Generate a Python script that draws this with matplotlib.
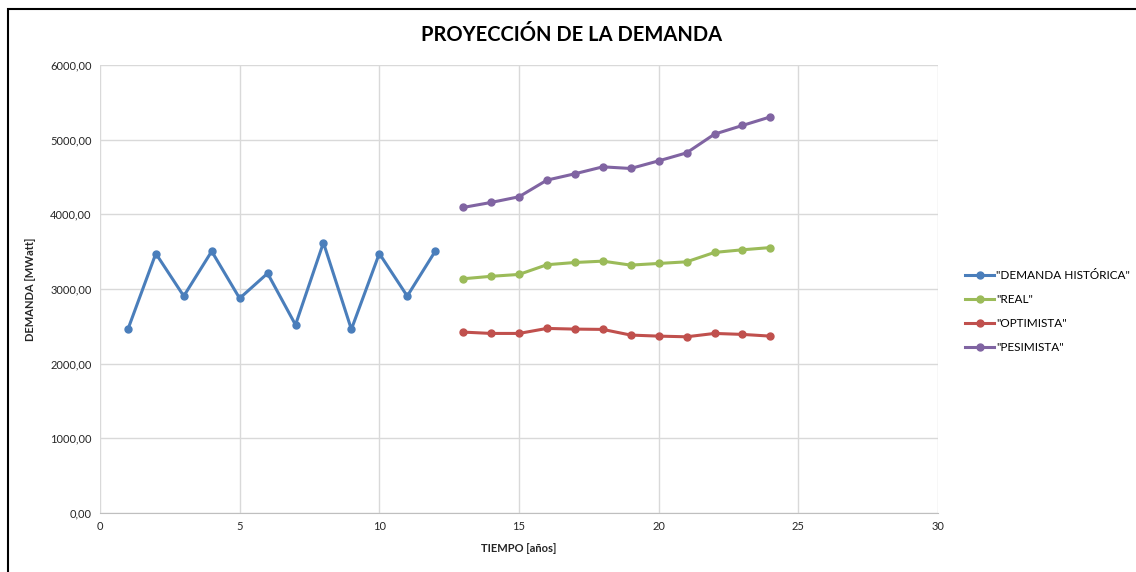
import matplotlib
matplotlib.use("Agg")
import matplotlib.pyplot as plt
from matplotlib.patches import Rectangle
from matplotlib.ticker import FuncFormatter

plt.rcParams['font.family'] = ['Lato', 'DejaVu Sans']

# data
years_hist = list(range(1, 13))
demanda_historica = [2460, 3475, 2905, 3505, 2875, 3210, 2520, 3620, 2460, 3475, 2905, 3505]

years_proj = list(range(13, 25))
real = [3137, 3170, 3195, 3325, 3355, 3373, 3320, 3342, 3364, 3490, 3525, 3555]
optimista = [2423, 2405, 2405, 2472, 2463, 2459, 2383, 2369, 2360, 2405, 2392, 2369]
pesimista = [4092, 4159, 4235, 4458, 4543, 4636, 4614, 4716, 4823, 5074, 5190, 5305]

series = [
    ('"DEMANDA HISTÓRICA"', years_hist, demanda_historica, '#4A7EBB'),
    ('"REAL"', years_proj, real, '#9BBB59'),
    ('"OPTIMISTA"', years_proj, optimista, '#C0504D'),
    ('"PESIMISTA"', years_proj, pesimista, '#8064A2'),
]

fig = plt.figure(figsize=(11.36, 5.72), dpi=100)
ax = fig.add_axes([0.088, 0.1031, 0.7377, 0.7833])

for label, xs, ys, col in series:
    ax.plot(xs, ys, color=col, lw=2.2, marker='o', ms=5, label=label)

ax.set_xlim(0, 30)
ax.set_ylim(0, 6000)
ax.set_xticks(range(0, 31, 5))
ax.set_yticks(range(0, 6001, 1000))
ax.yaxis.set_major_formatter(FuncFormatter(lambda v, p: f"{v:.2f}".replace('.', ',')))
ax.grid(True, color='#D9D9D9', lw=1)
ax.set_axisbelow(True)
for s in ['top', 'right', 'left']:
    ax.spines[s].set_visible(False)
ax.spines['bottom'].set_color('#BFBFBF')
ax.tick_params(length=0, labelsize=8, colors='#262626', pad=6)

ax.set_xlabel('TIEMPO [años]', fontsize=8, fontweight='bold', color='#262626', labelpad=8)
ax.set_ylabel('DEMANDA [MWatt]', fontsize=8, fontweight='bold', color='#262626', labelpad=10)
fig.text(0.503, 0.938, 'PROYECCIÓN DE LA DEMANDA', ha='center', va='center',
         fontsize=14.5, fontweight='bold', color='#000000')

ax.legend(loc='center left', bbox_to_anchor=(1.02, 0.45), frameon=False,
          fontsize=8.5, handlelength=2.4, labelspacing=1.1, handletextpad=0.2)

# chart frame (cut off at right and bottom)
fig.patches.append(Rectangle((8 / 1136, -0.1), 1.2, 1 - 9 / 572 + 0.1,
                             transform=fig.transFigure, fill=False,
                             edgecolor='black', lw=1.5))

fig.savefig('out.png', dpi=100)
